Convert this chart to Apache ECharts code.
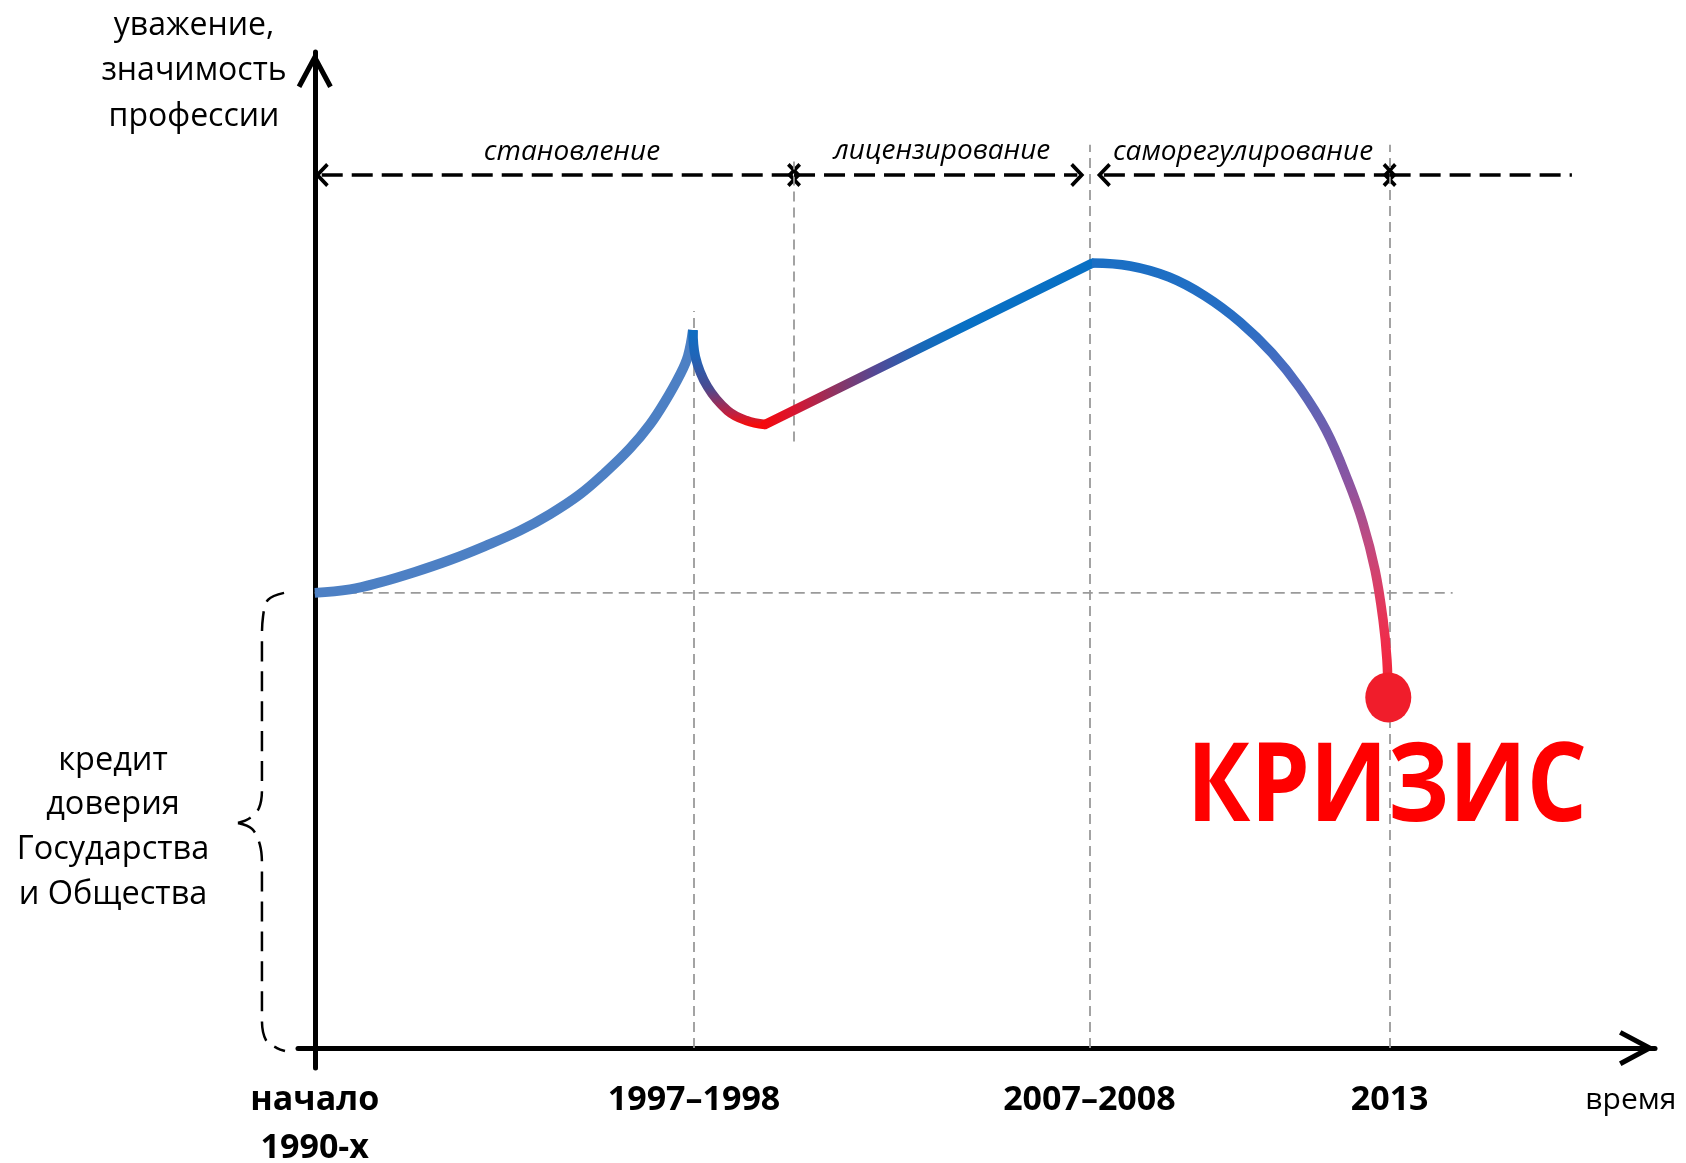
<!DOCTYPE html>
<html><head><meta charset="utf-8">
<script src="https://cdn.jsdelivr.net/npm/echarts@6/dist/echarts.min.js"></script>
<style>html,body{margin:0;padding:0;background:#fff}#c{width:1686px;height:1163px}</style>
</head><body><div id="c"></div><script>
// ---- data (abstract time units on x, "respect" units on y) ----
const xTickValues = [0, 28.3, 57.8, 80.2, 98.2];
const xTickLabels = ['начало\n1990-х', '1997–1998', '2007–2008', '2013', 'время'];
const riseCurve = [[0,45.7],[2.63,46.05],[4.87,46.75],[7.48,47.8],[10.09,49.0],[12.7,50.4],[15.31,51.95],[17.55,53.6],[19.79,55.6],[21.65,57.75],[23.52,60.2],[25.01,62.6],[26.13,64.9],[27.25,67.6],[27.85,69.5],[28.22,72.09]];
const dipCurve = [[28.22,72.09],[28.4,69.4],[29.3,66.4],[30.8,64.0],[32.2,63.0],[33.6,62.6]];
const growthLine = [[33.6,62.6],[58.0,78.8]];
const fallCurve = [[57.99,78.82],[60.83,78.52],[63.74,77.41],[66.42,75.51],[69.04,72.89],[71.42,69.78],[73.51,66.27],[75.45,62.05],[77.10,56.93],[78.21,52.71],[79.11,47.99],[79.71,42.98],[80.0,38.96],[80.08,35.25]];
const crisisPoint = [[80.1,35.2]];
const trustLevel = [[0,45.7],[84.9,45.7]];
const guideLines = [[28.3,0,74],[35.76,60.9,89.0],[57.8,0,90.7],[80.2,0,90.7]];
const periodY = 87.65;
const periodSpans = [[0.52,35.76],[35.76,56.9],[58.88,80.2],[80.2,93.8]];
const arrowsLeft = [[0.52,87.65],[35.76,87.65],[58.88,87.65],[80.2,87.65]];
const arrowsRight = [[35.76,87.65],[56.9,87.65],[80.2,87.65]];
const periodNames = ['становление','лицензирование','саморегулирование'];
const braceUpper = [[-2.29,45.7],[-3.49,45.0],[-3.86,43.3],[-3.94,41.0],[-3.94,25.9],[-4.16,24.1],[-4.83,23.1],[-5.73,22.6]];
const braceLower = [[-5.73,22.6],[-4.68,22.0],[-4.09,20.4],[-3.94,18.4],[-3.94,2.8],[-3.64,0.8],[-2.82,0.0],[-2.22,-0.3]];
const yTitle = ['уважение,', 'значимость', 'профессии'];
const trustLabel = ['кредит', 'доверия', 'Государства', 'и Общества'];
const crisisLabel = 'КРИЗИС';

// ---- styling / layout ----
const FONT = "'Open Sans', 'Noto Sans', sans-serif";
const axisArrow = 'path://M18,0 L0.3,33.1 L4.7,35.5 L18,10.6 L31.3,35.5 L35.7,33.1 Z';
const chevronLeft = 'path://M0,11 L11,0 L13.5,2.5 L5,11 L13.5,19.5 L11,22 Z';
const chevronRight = 'path://M13.5,11 L2.5,0 L0,2.5 L8.5,11 L0,19.5 L2.5,22 Z';
const periodLabelPos = [[572,152],[942,151],[1243,152]];

function grad(x2, y2, stops) {
  return {type:'linear', x:0, y:0, x2:x2, y2:y2, colorStops: stops.map(s => ({offset:s[0], color:s[1]}))};
}

const chart = echarts.init(document.getElementById('c'), null, {renderer:'canvas'});

const lineBase = {type:'line', symbol:'none', showSymbol:false, silent:true, animation:false, z:5};

chart.setOption({
  backgroundColor:'#ffffff',
  animation:false,
  grid:[
    {left:298, right:31, top:52, bottom:95, containLabel:false, outerBoundsMode:'none'},
    {left:220, width:80, top:52, bottom:95, containLabel:false, outerBoundsMode:'none'}
  ],
  xAxis:[{
    type:'value', min:-1.25, max:100, gridIndex:0,
    axisLine:{show:true, onZero:true, symbol:['none', axisArrow], symbolSize:[36,36], symbolOffset:[0,-18],
      lineStyle:{color:'#000', width:5}},
    axisTick:{show:false},
    splitLine:{show:false},
    axisLabel:{
      show:true, customValues:xTickValues, margin:8, interval:0, hideOverlap:false,
      fontFamily:FONT, fontWeight:'bold', fontSize:34, lineHeight:48, color:'#000',
      formatter:function(v){
        let i = xTickValues.findIndex(t => Math.abs(t - v) < 1e-6);
        if (i < 0) return '';
        if (xTickLabels[i] === 'время') return '{t|' + xTickLabels[i] + '}';
        return xTickLabels[i];
      },
      rich:{t:{fontFamily:FONT, fontWeight:'normal', fontSize:30, color:'#000', lineHeight:48}}
    }
  }, {
    type:'value', gridIndex:1, min:-7.07, max:-1.10, show:false
  }],
  yAxis:[{
    type:'value', min:-2, max:100, gridIndex:0,
    axisLine:{show:true, onZero:true, symbol:['none', axisArrow], symbolSize:[36,36], symbolOffset:[0,-18],
      lineStyle:{color:'#000', width:5}},
    axisTick:{show:false}, axisLabel:{show:false}, splitLine:{show:false}
  }, {
    type:'value', gridIndex:1, min:-2, max:100, show:false
  }],
  series:[
    Object.assign({}, lineBase, {name:'trust', data:trustLevel, z:2,
      lineStyle:{color:'#9a9a9a', width:1.8, type:[10,6]}}),
    Object.assign({}, lineBase, {name:'guides', data:[], z:2,
      markLine:{silent:true, animation:false, symbol:['none','none'], label:{show:false},
        lineStyle:{color:'#9a9a9a', width:1.8, type:[10,6]},
        emphasis:{disabled:true},
        data: guideLines.map(g => [{coord:[g[0], g[1]]}, {coord:[g[0], g[2]]}])}}),
    Object.assign({}, lineBase, {name:'periods', data:[], z:3,
      markLine:{silent:true, animation:false, symbol:['none','none'],
        label:{show:false}, emphasis:{disabled:true},
        lineStyle:{color:'#000', width:3.5, type:[21,9]},
        data: periodSpans.map(s => [{coord:[s[0], periodY]}, {coord:[s[1], periodY]}])}}),
    {type:'scatter', name:'arrowsLeft', data:arrowsLeft, symbol:chevronLeft, symbolSize:[14,24], silent:true, z:4,
      itemStyle:{color:'#000', opacity:1}, animation:false},
    {type:'scatter', name:'arrowsRight', data:arrowsRight, symbol:chevronRight, symbolSize:[14,24], silent:true, z:4,
      itemStyle:{color:'#000', opacity:1}, animation:false},
    Object.assign({}, lineBase, {name:'braceUpper', data:braceUpper, xAxisIndex:1, yAxisIndex:1, smooth:0.35,
      lineStyle:{color:'#000', width:2.5, type:[20,10]}}),
    Object.assign({}, lineBase, {name:'braceLower', data:braceLower, xAxisIndex:1, yAxisIndex:1, smooth:0.35,
      lineStyle:{color:'#000', width:2.5, type:[20,10]}}),
    Object.assign({}, lineBase, {name:'rise', data:riseCurve, smooth:0.4,
      lineStyle:{color:'#4d80c4', width:10, cap:'butt', join:'round'}}),
    Object.assign({}, lineBase, {name:'dip', data:dipCurve, smooth:0.4,
      lineStyle:{width:9.5, cap:'butt', join:'round', color:grad(0,1,[[0,'#0a6fc4'],[0.3,'#2065b8'],[0.6,'#4a4a90'],[0.85,'#c02040'],[0.95,'#f01010'],[1,'#ff0000']])}}),
    Object.assign({}, lineBase, {name:'growth', data:growthLine,
      lineStyle:{width:9.5, cap:'round', color:grad(1,0,[[0,'#f80808'],[0.1,'#d81530'],[0.23,'#8a3565'],[0.35,'#504a98'],[0.48,'#1868b8'],[0.6,'#0870c4'],[1,'#0870c4']])}}),
    Object.assign({}, lineBase, {name:'fall', data:fallCurve, smooth:0.4,
      lineStyle:{width:9.5, cap:'butt', join:'round', color:grad(0,1,[[0,'#1a6fc4'],[0.15,'#2a6ec4'],[0.25,'#4a6cc0'],[0.37,'#6a60b0'],[0.5,'#8a55a2'],[0.64,'#c04a80'],[0.76,'#de3c62'],[0.87,'#ef2c4a'],[1,'#f0202e']])}}),
    {type:'scatter', name:'crisis', data:crisisPoint, symbol:'circle', symbolSize:[46,50], silent:true, z:6,
      itemStyle:{color:'#f01d2b', opacity:1}, animation:false}
  ],
  graphic:[
    {type:'text', x:194, y:3, silent:true,
      style:{text:yTitle.join('\n'), fontFamily:FONT, fontSize:32, lineHeight:45.5, fill:'#000', align:'center', verticalAlign:'top'}},
    {type:'text', x:113, y:738, silent:true,
      style:{text:trustLabel.join('\n'), fontFamily:FONT, fontSize:32.5, lineHeight:44.7, fill:'#000', align:'center', verticalAlign:'top'}},
    ...periodNames.map((n, i) => ({type:'text', x:periodLabelPos[i][0], y:periodLabelPos[i][1], silent:true,
      style:{text:n, fontFamily:FONT, fontStyle:'italic', fontSize:28, fill:'#000', align:'center', verticalAlign:'middle'}})),
    {type:'text', x:1387, y:790, scaleX:0.86, silent:true,
      style:{text:crisisLabel, fontFamily:FONT, fontWeight:'bold', fontSize:110, fill:'#ff0000', align:'center', verticalAlign:'middle'}}
  ]
});
</script></body></html>
